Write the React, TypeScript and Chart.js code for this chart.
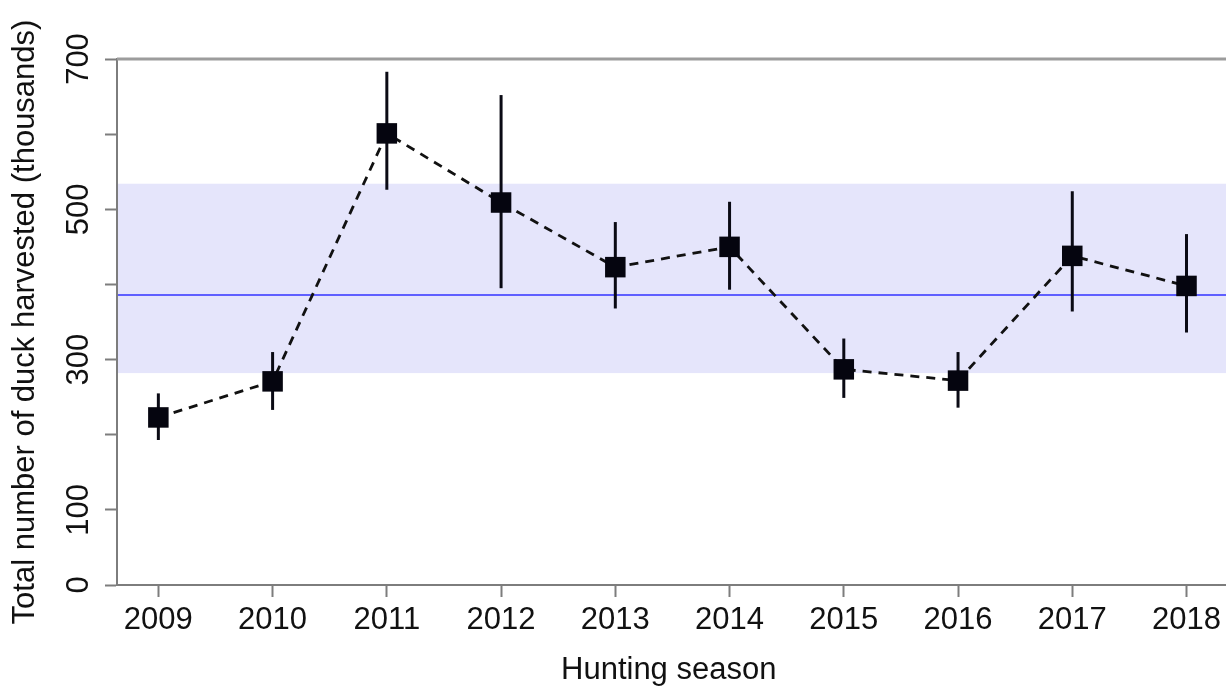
import React, { useEffect, useRef } from "react";
import { Chart, registerables } from "chart.js";

Chart.register(...registerables);

// Hunting seasons and harvest estimates (thousands of ducks)
const seasons = [2009, 2010, 2011, 2012, 2013, 2014, 2015, 2016, 2017, 2018];
const harvest = [223, 271, 601, 509, 423, 450, 287, 272, 438, 398];
const harvestLower = [193, 233, 526, 395, 368, 393, 249, 236, 364, 336];
const harvestUpper = [255, 310, 683, 652, 483, 510, 328, 310, 524, 467];

// Long-term average and its reference range
const longTermMean = 386;
const rangeLow = 282;
const rangeHigh = 534;

// Axis ticks
const yTicks = [0, 100, 200, 300, 400, 500, 600, 700];
const yTickLabels = [0, 100, 300, 500, 700];
const xMin = 2008.638;
const xMax = 2018.297;

const FONT = "'Liberation Sans', Arial, sans-serif";
const AXIS_GREY = "#7d7d7d";

const backdropPlugin = {
  id: "backdrop",
  beforeDatasetsDraw(chart: any) {
    const { ctx, chartArea, scales } = chart;
    const y = scales.y;
    const x = scales.x;
    const right = chart.width;
    ctx.save();
    // reference range band
    const yHi = y.getPixelForValue(rangeHigh);
    const yLo = y.getPixelForValue(rangeLow);
    ctx.fillStyle = "rgb(229,229,251)";
    ctx.fillRect(chartArea.left + 1, yHi, right - chartArea.left, yLo - yHi);
    // long-term mean
    const ym = y.getPixelForValue(longTermMean);
    ctx.strokeStyle = "rgb(95,95,255)";
    ctx.lineWidth = 2;
    ctx.beginPath();
    ctx.moveTo(chartArea.left + 1, ym);
    ctx.lineTo(right, ym);
    ctx.stroke();
    // top frame line and bottom axis line run to the right edge
    const yTop = y.getPixelForValue(700);
    ctx.strokeStyle = "#9c9c9c";
    ctx.lineWidth = 3;
    ctx.beginPath();
    ctx.moveTo(chartArea.left, yTop);
    ctx.lineTo(right, yTop);
    ctx.stroke();
    const yBase = y.getPixelForValue(0);
    ctx.strokeStyle = AXIS_GREY;
    ctx.lineWidth = 2;
    ctx.beginPath();
    ctx.moveTo(chartArea.right - 2, yBase);
    ctx.lineTo(right, yBase);
    ctx.stroke();
    // confidence intervals
    ctx.strokeStyle = "#0a0a14";
    ctx.lineWidth = 3;
    seasons.forEach((s, i) => {
      const px = x.getPixelForValue(s);
      ctx.beginPath();
      ctx.moveTo(px, y.getPixelForValue(harvestUpper[i]));
      ctx.lineTo(px, y.getPixelForValue(harvestLower[i]));
      ctx.stroke();
    });
    ctx.restore();
  },
};

export default function App() {
  const canvasRef = useRef<HTMLCanvasElement | null>(null);

  useEffect(() => {
    document.body.style.margin = "0";
    document.body.style.overflow = "hidden";
    const canvas = canvasRef.current;
    if (!canvas) return;
    const chart = new Chart(canvas, {
      type: "line",
      data: {
        datasets: [
          {
            data: seasons.map((s, i) => ({ x: s, y: harvest[i] })),
            borderColor: "#111111",
            borderWidth: 2.8,
            borderDash: [9, 7],
            pointStyle: "rect",
            pointRadius: 14.5,
            pointHoverRadius: 14.5,
            pointBackgroundColor: "#05050f",
            pointBorderWidth: 0,
            tension: 0,
            clip: false,
          },
        ],
      },
      options: {
        responsive: false,
        animation: false,
        devicePixelRatio: 1,
        events: [],
        layout: { autoPadding: false, padding: { top: 59, left: 0, right: 0, bottom: 0 } },
        plugins: {
          legend: { display: false },
          tooltip: { enabled: false },
        },
        scales: {
          x: {
            type: "linear",
            min: xMin,
            max: xMax,
            afterBuildTicks: (scale: any) => {
              scale.ticks = seasons.map((v) => ({ value: v }));
            },
            afterFit: (scale: any) => {
              scale.height = 104;
            },
            grid: {
              drawOnChartArea: false,
              drawTicks: true,
              tickLength: 12,
              tickColor: AXIS_GREY,
              tickWidth: 2,
            },
            border: { display: true, color: AXIS_GREY, width: 2 },
            ticks: {
              autoSkip: false,
              maxRotation: 0,
              padding: 5,
              color: "#111111",
              font: { family: FONT, size: 31 },
              callback: (v: any) => String(v),
            },
            title: {
              display: true,
              text: "Hunting season",
              color: "#111111",
              font: { family: FONT, size: 31 },
              padding: { top: 0, bottom: 0 },
            },
          },
          y: {
            type: "linear",
            min: 0,
            max: 700,
            afterBuildTicks: (scale: any) => {
              scale.ticks = yTicks.map((v) => ({ value: v }));
            },
            afterFit: (scale: any) => {
              scale.width = 117;
            },
            grid: {
              drawOnChartArea: false,
              drawTicks: true,
              tickLength: 12,
              tickColor: AXIS_GREY,
              tickWidth: 2,
            },
            border: { display: true, color: AXIS_GREY, width: 2 },
            ticks: {
              autoSkip: false,
              minRotation: 90,
              maxRotation: 90,
              crossAlign: "center",
              padding: 0,
              color: "#111111",
              font: { family: FONT, size: 31 },
              callback: (v: any) => (yTickLabels.includes(Number(v)) ? String(v) : ""),
            },
            title: {
              display: true,
              text: "Total number of duck harvested (thousands)",
              color: "#111111",
              font: { family: FONT, size: 31 },
              padding: { top: 7, bottom: 0 },
            },
          },
        },
      },
      plugins: [backdropPlugin],
    } as any);
    return () => chart.destroy();
  }, []);

  return (
    <canvas
      ref={canvasRef}
      width={1226}
      height={689}
      style={{ display: "block", width: 1226, height: 689 }}
    />
  );
}
